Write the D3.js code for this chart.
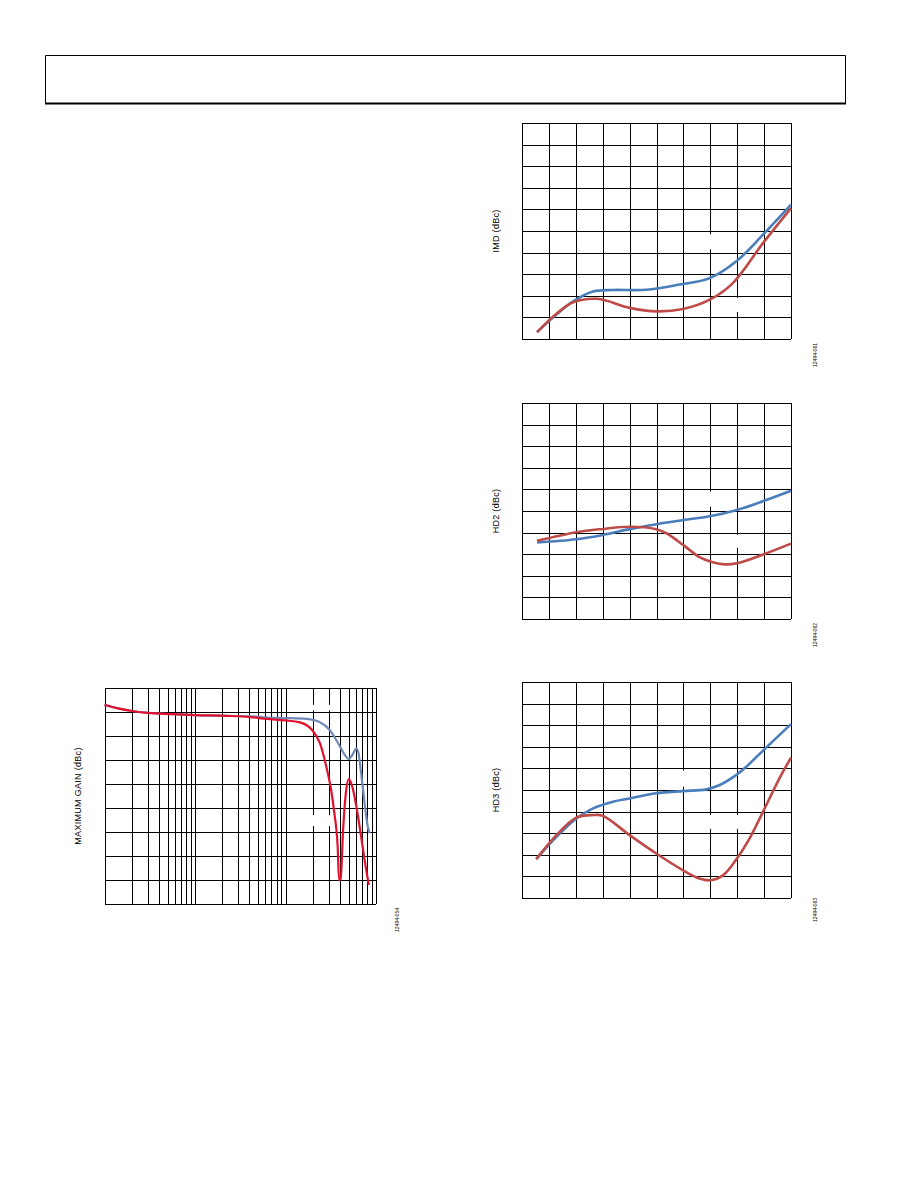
<!DOCTYPE html>
<html>
<head>
<meta charset="utf-8">
<script src="https://cdn.jsdelivr.net/npm/d3@7"></script>
<style>
  html, body { margin: 0; padding: 0; background: #fff; }
  svg { display: block; }
  text { font-family: "Liberation Sans", Arial, sans-serif; fill: #000; }
</style>
</head>
<body>
<script>
// ---------------- DATA ----------------
// IMD chart (linear grid, 10 x 10 divisions)
const imdBlueX = [0.56, 1.28, 1.9, 2.64, 3.38, 4.62, 5.86, 6.98, 7.97, 8.96, 10];
const imdBlue  = [0.32, 1.13, 1.74, 2.2, 2.27, 2.28, 2.52, 2.82, 3.6, 4.83, 6.22];
const imdRedX  = [0.56, 1.28, 1.9, 2.8, 4.0, 5.0, 5.99, 6.98, 7.84, 8.96, 10];
const imdRed   = [0.32, 1.17, 1.7, 1.86, 1.44, 1.28, 1.39, 1.82, 2.59, 4.44, 6.06];

// HD2 chart
const hd2BlueX = [0.56, 2.02, 3.01, 4.0, 4.99, 5.99, 6.99, 7.99, 8.99, 10];
const hd2Blue  = [3.54, 3.69, 3.89, 4.16, 4.39, 4.58, 4.76, 5.05, 5.47, 5.94];
const hd2RedX  = [0.56, 2.02, 3.01, 4.0, 4.99, 5.37, 5.99, 6.6, 6.99, 7.52, 7.99, 8.99, 10];
const hd2Red   = [3.62, 4.02, 4.17, 4.27, 4.16, 3.97, 3.43, 2.86, 2.66, 2.53, 2.58, 3.0, 3.49];

// HD3 chart
const hd3BlueX = [0.53, 1.28, 2.02, 2.64, 3.38, 4.0, 4.99, 5.99, 6.85, 7.35, 7.97, 8.34, 8.99, 10];
const hd3Blue  = [1.80, 2.83, 3.68, 4.15, 4.46, 4.61, 4.85, 4.95, 5.03, 5.23, 5.7, 6.08, 6.86, 8.05];
const hd3RedX  = [0.53, 1.28, 2.02, 2.64, 3.0, 4.0, 4.99, 5.99, 6.6, 6.99, 7.47, 7.99, 8.46, 8.99, 9.57, 10];
const hd3Red   = [1.80, 2.91, 3.72, 3.84, 3.81, 2.91, 2.06, 1.28, 0.9, 0.82, 1.05, 1.83, 2.76, 4.07, 5.54, 6.5];

// Maximum gain chart (log frequency axis, 3 decades; 9 vertical divisions)
const gainBlueF = [1, 2.09, 5.77, 10, 22.3, 44, 61.7, 100, 170, 240, 306, 381, 450, 500, 550, 607, 640, 685, 748, 811, 847];
const gainBlue  = [8.28, 8.03, 7.91, 7.87, 7.84, 7.82, 7.77, 7.75, 7.71, 7.57, 7.26, 6.70, 6.22, 6.04, 6.22, 6.47, 6.29, 5.45, 4.2, 3.23, 2.95];
const gainRedF  = [1, 1.37, 2.09, 2.98, 5.77, 10, 22.3, 40.4, 61.7, 100, 144, 196, 240, 282, 319, 347, 377, 391, 407, 433, 469, 500, 546, 607, 685, 748, 834];
const gainRed   = [8.3, 8.16, 8.03, 7.96, 7.91, 7.87, 7.84, 7.79, 7.71, 7.65, 7.57, 7.26, 6.70, 5.73, 4.76, 3.78, 2.39, 1.0, 1.03, 3.09, 4.76, 5.2, 4.9, 4.06, 2.81, 1.84, 0.79];

// Text
const yLabels = ["IMD (dBc)", "HD2 (dBc)", "HD3 (dBc)", "MAXIMUM GAIN (dBc)"];
const figIds  = ["12494-061", "12494-062", "12494-063", "12494-054"];

// --------------- DRAWING ---------------
const W = 918, H = 1188;
const svg = d3.select("body").append("svg").attr("width", W).attr("height", H);

// Header box
svg.append("path")
  .attr("d", "M45.5,103 L45.5,55.5 L845.5,55.5 L845.5,103")
  .attr("fill", "none").attr("stroke", "#000").attr("stroke-width", 1);
svg.append("line").attr("x1", 45).attr("x2", 846).attr("y1", 103.5).attr("y2", 103.5)
  .attr("stroke", "#000").attr("stroke-width", 2);

const BLUE = "#4a7ebb", RED = "#be4b48";

function linChart(opts) {
  const { left, right, top, bottom, series, label, id, labelX, idX, idY, gaps } = opts;
  const x = d3.scaleLinear().domain([0, 10]).range([left, right]);
  const y = d3.scaleLinear().domain([0, 10]).range([bottom, top]);
  const g = svg.append("g");
  const ticks = d3.range(0, 11);
  g.append("g").selectAll("line").data(ticks).join("line")
    .attr("x1", d => Math.round(x(d)) + 0.5).attr("x2", d => Math.round(x(d)) + 0.5)
    .attr("y1", y(0)).attr("y2", y(10))
    .attr("stroke", "#000").attr("stroke-width", 1).attr("shape-rendering", "crispEdges");
  g.append("g").selectAll("line").data(ticks).join("line")
    .attr("y1", d => Math.round(y(d)) + 0.5).attr("y2", d => Math.round(y(d)) + 0.5)
    .attr("x1", x(0)).attr("x2", x(10))
    .attr("stroke", "#000").attr("stroke-width", 1).attr("shape-rendering", "crispEdges");
  // blank legend patches (white boxes that interrupt the grid)
  g.append("g").selectAll("rect").data(gaps).join("rect")
    .attr("x", d => x(d[0])).attr("width", d => x(d[1]) - x(d[0]))
    .attr("y", d => y(d[3])).attr("height", d => y(d[2]) - y(d[3]))
    .attr("fill", "#fff");
  const line = d3.line().x(d => x(d[0])).y(d => y(d[1])).curve(d3.curveCatmullRom.alpha(0.5));
  series.forEach(s => {
    g.append("path").datum(d3.zip(s.xs, s.ys)).attr("d", line)
      .attr("fill", "none").attr("stroke", s.color).attr("stroke-width", 2.6)
      .attr("stroke-linejoin", "round");
  });
  g.append("text").text(label)
    .attr("transform", `translate(${labelX},${(top + bottom) / 2}) rotate(-90)`)
    .attr("text-anchor", "middle").attr("dominant-baseline", "central")
    .attr("font-size", 9).attr("letter-spacing", 0.3);
  g.append("text").text(id)
    .attr("transform", `translate(${idX},${idY}) rotate(-90)`)
    .attr("text-anchor", "middle").attr("dominant-baseline", "central")
    .attr("font-size", 5);
}

linChart({
  left: 522, right: 791, top: 123, bottom: 339,
  series: [{ xs: imdBlueX, ys: imdBlue, color: BLUE }, { xs: imdRedX, ys: imdRed, color: RED }],
  label: yLabels[0], id: figIds[0], labelX: 496, idX: 815, idY: 355,
  gaps: [[6.3, 7.4, 4.15, 4.85], [7.3, 8.3, 1.25, 1.9]]
});
linChart({
  left: 522, right: 791, top: 403, bottom: 619,
  series: [{ xs: hd2BlueX, ys: hd2Blue, color: BLUE }, { xs: hd2RedX, ys: hd2Red, color: RED }],
  label: yLabels[1], id: figIds[1], labelX: 496, idX: 815, idY: 635,
  gaps: [[6.3, 7.4, 5.2, 5.9], [7.3, 8.3, 3.3, 3.9]]
});
linChart({
  left: 522, right: 791, top: 682, bottom: 898,
  series: [{ xs: hd3BlueX, ys: hd3Blue, color: BLUE }, { xs: hd3RedX, ys: hd3Red, color: RED }],
  label: yLabels[2], id: figIds[2], labelX: 496, idX: 815, idY: 910,
  gaps: [[5.3, 6.4, 5.15, 5.9], [6.3, 8.3, 3.2, 3.85]]
});

// Maximum gain (log x)
(function () {
  const left = 104.5, right = 376, top = 688, bottom = 904;
  const x = d3.scaleLog().domain([1, 1000]).range([left, right]);
  const y = d3.scaleLinear().domain([0, 9]).range([bottom, top]);
  const g = svg.append("g");
  const vt = [];
  [1, 10, 100].forEach(dec => { for (let k = 1; k < 10; k++) vt.push(dec * k); });
  vt.push(1000);
  g.append("g").selectAll("line").data(vt).join("line")
    .attr("x1", d => Math.round(x(d)) + 0.5).attr("x2", d => Math.round(x(d)) + 0.5)
    .attr("y1", y(0)).attr("y2", y(9))
    .attr("stroke", "#000").attr("stroke-width", 1).attr("shape-rendering", "crispEdges");
  g.append("g").selectAll("line").data(d3.range(0, 10)).join("line")
    .attr("y1", d => Math.round(y(d)) + 0.5).attr("y2", d => Math.round(y(d)) + 0.5)
    .attr("x1", x(1)).attr("x2", x(1000))
    .attr("stroke", "#000").attr("stroke-width", 1).attr("shape-rendering", "crispEdges");
  const gaps = [[170, 320, 8.07, 8.3], [170, 320, 3.25, 3.7]];
  g.append("g").selectAll("rect").data(gaps).join("rect")
    .attr("x", d => x(d[0])).attr("width", d => x(d[1]) - x(d[0]))
    .attr("y", d => y(d[3])).attr("height", d => y(d[2]) - y(d[3]))
    .attr("fill", "#fff");
  const line = d3.line().x(d => x(d[0])).y(d => y(d[1])).curve(d3.curveMonotoneX);
  g.append("path").datum(d3.zip(gainBlueF, gainBlue)).attr("d", line)
    .attr("fill", "none").attr("stroke", "#7189b9").attr("stroke-width", 2.2);
  g.append("path").datum(d3.zip(gainRedF, gainRed)).attr("d", line)
    .attr("fill", "none").attr("stroke", "#e0102e").attr("stroke-width", 2.2);
  g.append("text").text(yLabels[3])
    .attr("transform", `translate(78,${(top + bottom) / 2}) rotate(-90)`)
    .attr("text-anchor", "middle").attr("dominant-baseline", "central")
    .attr("font-size", 9).attr("letter-spacing", 0.3);
  g.append("text").text(figIds[3])
    .attr("transform", `translate(397,920) rotate(-90)`)
    .attr("text-anchor", "middle").attr("dominant-baseline", "central")
    .attr("font-size", 5);
})();
</script>
</body>
</html>
